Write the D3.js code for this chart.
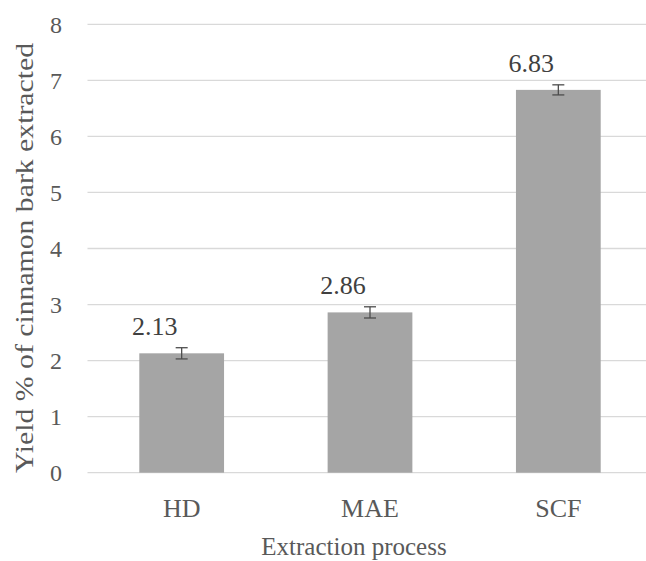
<!DOCTYPE html>
<html><head><meta charset="utf-8">
<script src="https://cdn.jsdelivr.net/npm/d3@7"></script>
<style>body{margin:0;background:#fff}svg{display:block}</style>
</head><body>
<script>
const categories = ["HD", "MAE", "SCF"];
const values = [2.13, 2.86, 6.83];
const errors = [0.1, 0.1, 0.09];
const yTicks = [0, 1, 2, 3, 4, 5, 6, 7, 8];
const xTitle = "Extraction process";
const yTitle = "Yield % of cinnamon bark extracted";

const W = 646, H = 561;
const svg = d3.select("body").append("svg").attr("width", W).attr("height", H);
const font = "Liberation Serif, Times New Roman, serif";
const textCol = "#595959";

const x = d3.scaleBand().domain(categories).range([87.5, 652.5]).paddingInner(0.55).paddingOuter(0.275);
const y = d3.scaleLinear().domain([0, 8]).range([472.7, 24.3]);

// gridlines
svg.append("g").selectAll("line").data(yTicks).join("line")
  .attr("x1", 87.5).attr("x2", W)
  .attr("y1", d => y(d)).attr("y2", d => y(d))
  .attr("stroke", "#d9d9d9").attr("stroke-width", 1.3);

// y axis labels
const yAxis = d3.axisLeft(y).tickValues(yTicks).tickSize(0).tickPadding(0).tickFormat(d3.format("d"));
const gy = svg.append("g").attr("transform", "translate(62,0)").call(yAxis)
  .attr("font-family", font).attr("font-size", 24);
gy.select(".domain").remove();
gy.selectAll("text").attr("fill", textCol).attr("dy", "0.34em");

// bars
svg.append("g").selectAll("rect").data(categories).join("rect")
  .attr("x", d => x(d)).attr("width", x.bandwidth())
  .attr("y", (d, i) => y(values[i])).attr("height", (d, i) => y(0) - y(values[i]))
  .attr("fill", "#a5a5a5");

// error bars
const eg = svg.append("g").attr("stroke", "#4d4d4d").attr("stroke-width", 1.3);
categories.forEach((c, i) => {
  const cx = x(c) + x.bandwidth() / 2;
  const t = y(values[i] + errors[i]), b = y(values[i] - errors[i]);
  eg.append("line").attr("x1", cx).attr("x2", cx).attr("y1", t).attr("y2", b);
  eg.append("line").attr("x1", cx - 6).attr("x2", cx + 6).attr("y1", t).attr("y2", t);
  eg.append("line").attr("x1", cx - 6).attr("x2", cx + 6).attr("y1", b).attr("y2", b);
});

// data labels
svg.append("g").attr("font-family", font).attr("font-size", 26)
  .selectAll("text").data(categories).join("text")
  .attr("x", d => x(d) + x.bandwidth() / 2 - 27)
  .attr("y", (d, i) => y(values[i]) - 18)
  .attr("text-anchor", "middle")
  .attr("fill", "#404040")
  .text((d, i) => values[i].toFixed(2));

// x axis labels
const xAxis = d3.axisBottom(x).tickSize(0).tickPadding(0);
const gx = svg.append("g").call(xAxis).attr("font-family", font).attr("font-size", 26);
gx.select(".domain").remove();
gx.selectAll("text").attr("fill", textCol).attr("y", 517).attr("dy", 0);

// axis titles
svg.append("text").attr("x", 354).attr("y", 555).attr("text-anchor", "middle")
  .attr("font-family", font).attr("font-size", 25).attr("fill", textCol).text(xTitle);
svg.append("text").attr("transform", "translate(33,258) rotate(-90)").attr("text-anchor", "middle")
  .attr("font-family", font).attr("font-size", 26).attr("fill", textCol)
  .attr("textLength", 430).attr("lengthAdjust", "spacingAndGlyphs").text(yTitle);
</script>
</body></html>
